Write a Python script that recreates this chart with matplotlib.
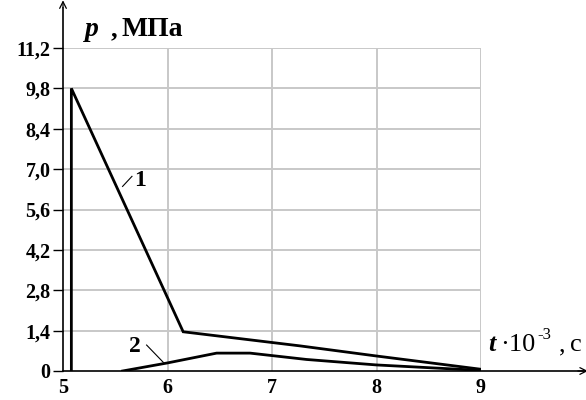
import matplotlib
matplotlib.use("Agg")
import matplotlib.pyplot as plt

# Pressure curves p(t), t in units of 10^-3 s, p in MPa
t1 = [5.08, 5.08, 6.15, 7.27, 8.0, 9.0]
p1 = [0.0, 9.8, 1.36, 0.87, 0.52, 0.06]

t2 = [5.57, 6.0, 6.47, 6.79, 7.33, 8.0, 9.0]
p2 = [0.0, 0.28, 0.62, 0.62, 0.40, 0.21, 0.02]

x_ticks = [5, 6, 7, 8, 9]
x_labels = ["5", "6", "7", "8", "9"]
y_ticks = [0, 1.4, 2.8, 4.2, 5.6, 7.0, 8.4, 9.8, 11.2]
y_labels = ["0", "1,4", "2,8", "4,2", "5,6", "7,0", "8,4", "9,8", "11,2"]

W, H = 586, 400
fig = plt.figure(figsize=(W / 100, H / 100), dpi=100)
serif = "Liberation Serif"

# axes box in pixels: x 63..481, y 48..371
x0, x1, y0, y1 = 63, 481, 48, 371
ax = fig.add_axes([x0 / W, 1 - y1 / H, (x1 - x0) / W, (y1 - y0) / H])
ax.set_xlim(5, 9)
ax.set_ylim(0, 11.2)
for s in ax.spines.values():
    s.set_visible(False)

# grid
grid_c = "#c8c8c8"
for yv in y_ticks[1:]:
    ax.plot([5, 9], [yv, yv], color=grid_c, lw=1.4, zorder=1)
for xv in x_ticks[1:]:
    ax.plot([xv, xv], [0, 11.2], color=grid_c, lw=1.4, zorder=1)

# curves
ax.plot(t1, p1, color="black", lw=2.0, zorder=3, solid_joinstyle="miter")
ax.plot(t2, p2, color="black", lw=2.0, zorder=3)

# axes with arrows
ax.plot([5, 10.0], [0, 0], color="black", lw=1.2, clip_on=False, zorder=4)
ax.plot([5, 5], [0, 12.6], color="black", lw=1.2, clip_on=False, zorder=4)
ax.annotate("", xy=(10.05, 0), xytext=(9.9, 0), xycoords="data",
            arrowprops=dict(arrowstyle="->", lw=0.9, color="black",
                            mutation_scale=12), annotation_clip=False)
ax.annotate("", xy=(5, 12.95), xytext=(5, 12.5), xycoords="data",
            arrowprops=dict(arrowstyle="->", lw=0.9, color="black",
                            mutation_scale=12), annotation_clip=False)

# ticks
ax.set_xticks(x_ticks)
ax.set_xticklabels(x_labels, fontfamily=serif, fontweight="bold", fontsize=14.5)
ax.set_yticks(y_ticks)
ax.set_yticklabels(y_labels, fontfamily=serif, fontweight="bold", fontsize=14.5)
ax.tick_params(axis="y", length=7, width=1.0, direction="out", pad=2)
ax.tick_params(axis="x", length=0, pad=5)

# curve labels with leaders
ax.text(5.74, 6.62, "1", fontfamily=serif, fontweight="bold", fontsize=17,
        ha="center", va="center")
ax.plot([5.57, 5.66], [6.4, 6.75], color="black", lw=0.8)
ax.text(5.69, 0.85, "2", fontfamily=serif, fontweight="bold", fontsize=17,
        ha="center", va="center")
ax.plot([5.8, 5.96], [0.9, 0.3], color="black", lw=0.8)

# axis titles
def ftext(px, py, s, **kw):
    fig.text(px / W, 1 - py / H, s, fontfamily=serif, va="baseline", **kw)

ftext(85, 36, "p", fontsize=20, fontweight="bold", fontstyle="italic")
ftext(111, 36, ",", fontsize=19, fontweight="bold")
ftext(122, 36, "МПа", fontsize=20, fontweight="bold")

ftext(488, 351, "t", fontsize=19, fontweight="bold", fontstyle="italic")
ftext(500, 351, "·10", fontsize=19)
ftext(537, 339, "-3", fontsize=12)
ftext(559, 351, ",", fontsize=19)
ftext(570, 351, "с", fontsize=19)

fig.savefig("out.png", dpi=100, facecolor="white")
